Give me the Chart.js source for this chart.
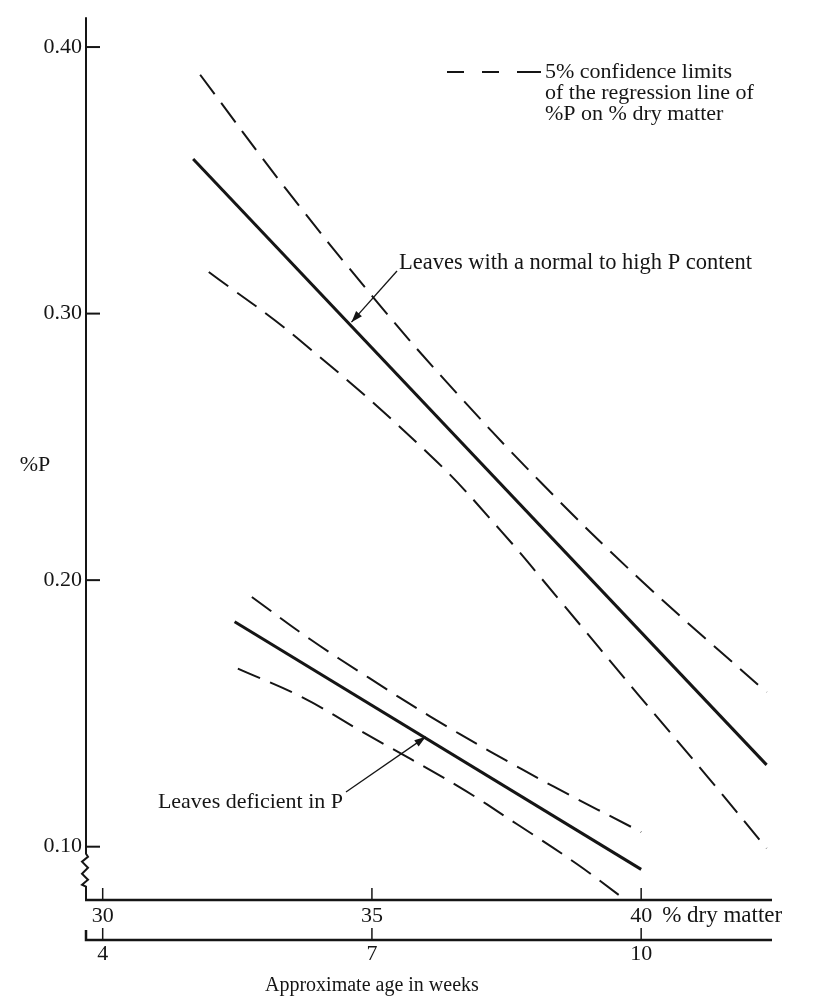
<!DOCTYPE html>
<html>
<head>
<meta charset="utf-8">
<title>%P against % dry matter</title>
<script src="https://cdn.jsdelivr.net/npm/chart.js@4.4.1/dist/chart.umd.min.js"></script>
<style>
  html, body { margin: 0; padding: 0; background: #fff; }
  #wrap { width: 816px; height: 1007px; }
</style>
</head>
<body>
<div id="wrap"><canvas id="chart" width="816" height="1007"></canvas></div>
<script>
// Leaves with a normal to high P content: regression line and 5% limits
const normalX = [31.68, 42.33];
const normalP = [0.358, 0.1307];
const normalUpperX = [31.81, 33.41, 35.07, 36.33, 38.13, 40.02, 42.33];
const normalUpperP = [0.3896, 0.3466, 0.3050, 0.2756, 0.2368, 0.1995, 0.1579];
const normalLowerX = [31.97, 33.60, 36.09, 37.40, 38.50, 39.96, 41.23, 42.33];
const normalLowerP = [0.3156, 0.2910, 0.2467, 0.2184, 0.1921, 0.1567, 0.1263, 0.0994];

// Leaves deficient in P
const deficientX = [32.45, 40.00];
const deficientP = [0.1844, 0.0915];
const deficientUpperX = [32.77, 33.84, 34.94, 36.07, 37.19, 38.38, 40.00];
const deficientUpperP = [0.1937, 0.1780, 0.1634, 0.1490, 0.1358, 0.1225, 0.1055];
const deficientLowerX = [32.51, 33.70, 34.88, 36.58, 37.69, 38.80, 39.69];
const deficientLowerP = [0.1668, 0.1561, 0.1424, 0.1229, 0.1085, 0.0936, 0.0803];

// axes
const pTicks = [0.10, 0.20, 0.30, 0.40];
const dryMatterTicks = [30, 35, 40];
const weekTicks = [4, 7, 10];
const dryMatterRange = [29.69, 42.43];
const pRange = [0.08, 0.4112];

// 30 % dry matter is 4 weeks, every 5 % more is 3 weeks more
function weeksAt(dm) {
  return 4 + (dm - 30) * 3 / 5;
}

function pairs(xs, ys) {
  return xs.map((x, i) => ({ x: x, y: ys[i] }));
}

const ink = '#151515';
const serif = '"Liberation Serif", "DejaVu Serif", serif';
const tickFont = { family: serif, size: 22 };

function solid(xs, ys) {
  return { data: pairs(xs, ys), borderColor: ink, borderWidth: 3, pointRadius: 0, tension: 0, fill: false };
}

function dashed(xs, ys) {
  return { data: pairs(xs, ys), borderColor: ink, borderWidth: 2, borderDash: [24, 11], pointRadius: 0, tension: 0.4, fill: false };
}

function arrow(ctx, x1, y1, x2, y2) {
  ctx.beginPath();
  ctx.moveTo(x1, y1);
  ctx.lineTo(x2, y2);
  ctx.stroke();
  const a = Math.atan2(y2 - y1, x2 - x1);
  const len = 12, spread = 0.33;
  ctx.beginPath();
  ctx.moveTo(x2, y2);
  ctx.lineTo(x2 - len * Math.cos(a - spread), y2 - len * Math.sin(a - spread));
  ctx.lineTo(x2 - len * Math.cos(a + spread), y2 - len * Math.sin(a + spread));
  ctx.closePath();
  ctx.fill();
}

// axis lines, inward ticks, the break on the %P axis and the text notes
const figureDecor = {
  id: 'figureDecor',
  afterDraw(chart) {
    const ctx = chart.ctx;
    const area = chart.chartArea;
    const x = chart.scales.x, x2 = chart.scales.x2, y = chart.scales.y;
    ctx.save();
    ctx.strokeStyle = ink;
    ctx.fillStyle = ink;
    ctx.lineWidth = 2;
    ctx.lineCap = 'butt';

    // %P axis with the break below 0.10
    const brk = y.getPixelForValue(0.10) + 7;
    ctx.beginPath();
    ctx.moveTo(area.left, area.top);
    ctx.lineTo(area.left, brk);
    const zig = [[2, 3], [-4, 8], [2, 14], [-4, 20], [2, 26], [-4, 31], [0, 33]];
    zig.forEach(p => ctx.lineTo(area.left + p[0], brk + p[1]));
    ctx.lineTo(area.left, area.bottom);
    ctx.stroke();

    pTicks.forEach(v => {
      const py = y.getPixelForValue(v);
      ctx.beginPath();
      ctx.moveTo(area.left, py);
      ctx.lineTo(area.left + 14, py);
      ctx.stroke();
    });

    // % dry matter axis
    ctx.lineWidth = 2.5;
    ctx.beginPath();
    ctx.moveTo(area.left - 1, area.bottom);
    ctx.lineTo(area.right, area.bottom);
    ctx.stroke();
    ctx.lineWidth = 1.5;
    dryMatterTicks.forEach(v => {
      const px = x.getPixelForValue(v);
      ctx.beginPath();
      ctx.moveTo(px, area.bottom - 12);
      ctx.lineTo(px, area.bottom);
      ctx.stroke();
    });

    // age axis
    const ay = x2.top;
    ctx.lineWidth = 2.5;
    ctx.beginPath();
    ctx.moveTo(area.left, ay - 10);
    ctx.lineTo(area.left, ay);
    ctx.lineTo(area.right, ay);
    ctx.stroke();
    ctx.lineWidth = 1.5;
    weekTicks.forEach(v => {
      const px = x2.getPixelForValue(v);
      ctx.beginPath();
      ctx.moveTo(px, ay - 12);
      ctx.lineTo(px, ay);
      ctx.stroke();
    });

    ctx.textBaseline = 'middle';

    ctx.font = '23px ' + serif;
    ctx.textAlign = 'left';
    ctx.fillText('% dry matter', x.getPixelForValue(40) + 21, x.top + 16);

    ctx.font = '20px ' + serif;
    ctx.textAlign = 'center';
    ctx.fillText('Approximate age in weeks', x2.getPixelForValue(7), x2.top + 46);

    ctx.font = '22px ' + serif;
    ctx.fillText('%P', 35, y.getPixelForValue(0.243));

    // key
    ctx.lineWidth = 2;
    ctx.beginPath();
    [[447, 464], [482, 499], [517, 541]].forEach(s => {
      ctx.moveTo(s[0], 72);
      ctx.lineTo(s[1], 72);
    });
    ctx.stroke();
    ctx.textAlign = 'left';
    ctx.fillText('5% confidence limits', 545, 72);
    ctx.fillText('of the regression line of', 545, 93);
    ctx.fillText('%P on % dry matter', 545, 114);

    // notes with arrows
    ctx.lineWidth = 1.3;
    ctx.font = '22.5px ' + serif;
    ctx.fillText('Leaves with a normal to high P content', 399, 263);
    arrow(ctx, 397, 271, x.getPixelForValue(34.62), y.getPixelForValue(0.2968));

    ctx.font = '22px ' + serif;
    ctx.textAlign = 'right';
    ctx.fillText('Leaves deficient in P', 343, 802);
    arrow(ctx, 346, 792, x.getPixelForValue(36.0), y.getPixelForValue(0.1412));

    ctx.restore();
  }
};

const ctx = document.getElementById('chart');
new Chart(ctx, {
  type: 'line',
  data: {
    datasets: [
      solid(normalX, normalP),
      dashed(normalUpperX, normalUpperP),
      dashed(normalLowerX, normalLowerP),
      solid(deficientX, deficientP),
      dashed(deficientUpperX, deficientUpperP),
      dashed(deficientLowerX, deficientLowerP)
    ]
  },
  options: {
    responsive: false,
    animation: false,
    layout: { padding: { top: 10, right: 44, left: 0, bottom: 0 } },
    plugins: {
      legend: { display: false },
      tooltip: { enabled: false }
    },
    scales: {
      x: {
        type: 'linear',
        position: 'bottom',
        weight: 0,
        min: dryMatterRange[0],
        max: dryMatterRange[1],
        afterBuildTicks: s => { s.ticks = dryMatterTicks.map(v => ({ value: v })); },
        afterFit: s => { s.height = 40; },
        grid: { display: false, drawTicks: false },
        border: { display: false },
        ticks: { font: tickFont, color: ink, padding: 3, maxRotation: 0, autoSkip: false }
      },
      x2: {
        type: 'linear',
        position: 'bottom',
        weight: 1,
        min: weeksAt(dryMatterRange[0]),
        max: weeksAt(dryMatterRange[1]),
        afterBuildTicks: s => { s.ticks = weekTicks.map(v => ({ value: v })); },
        afterFit: s => { s.height = 67; },
        grid: { display: false, drawTicks: false },
        border: { display: false },
        ticks: { font: tickFont, color: ink, padding: 1, maxRotation: 0, autoSkip: false }
      },
      y: {
        type: 'linear',
        min: pRange[0],
        max: pRange[1],
        afterBuildTicks: s => { s.ticks = pTicks.map(v => ({ value: v })); },
        afterFit: s => { s.width = 86; },
        grid: { display: false, drawTicks: false },
        border: { display: false },
        ticks: { font: tickFont, color: ink, padding: 4, callback: v => v.toFixed(2) }
      }
    }
  },
  plugins: [figureDecor]
});
</script>
</body>
</html>
